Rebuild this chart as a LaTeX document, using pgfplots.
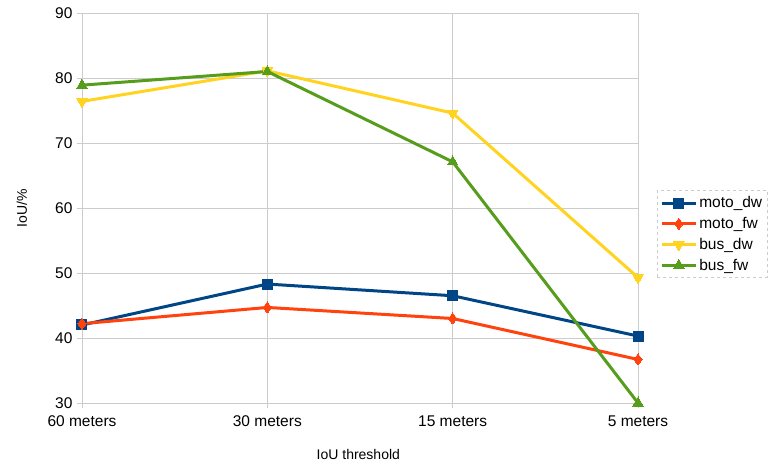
\documentclass[border=0pt]{standalone}
\usepackage{pgfplots}
\pgfplotsset{compat=1.18}
\usepackage{fontspec}
\setmainfont{Liberation Sans}

\definecolor{cMotoDw}{HTML}{004586}
\definecolor{cMotoFw}{HTML}{FF420E}
\definecolor{cBusDw}{HTML}{FFD320}
\definecolor{cBusFw}{HTML}{579D1C}
\definecolor{gridgray}{HTML}{CCCCCC}

\begin{document}
\begin{tikzpicture}[x=1pt,y=1pt]
\begin{axis}[
  name=ax,
  scale only axis,
  width=556pt, height=390pt,
  xmin=0, xmax=3,
  ymin=30, ymax=90,
  xtick={0,1,2,3},
  xticklabels={60 meters,30 meters,15 meters,5 meters},
  ytick={30,40,...,90},
  /pgf/number format/assume math mode=true,
  tick label style={font=\fontsize{15.5}{17}\selectfont, black},
  xticklabel style={yshift=-4pt},
  yticklabel style={xshift=-1pt},
  label style={font=\fontsize{14}{16}\selectfont},
  xlabel={IoU threshold},
  ylabel={IoU/\%},
  xlabel style={at={(axis description cs:0.497,0)}, anchor=center, yshift=-51pt},
  ylabel style={at={(axis description cs:-0.108,0.5)}, anchor=center},
  grid=major,
  grid style={gridgray, line width=0.8pt},
  axis line style={gridgray, line width=0.8pt},
  axis x line*=bottom,
  axis y line*=left,
  tick align=outside,
  major tick length=5pt,
  tick style={gridgray, line width=0.8pt},
  clip=false,
  every axis plot/.append style={line width=3pt, line join=round},
  legend style={
    at={([xshift=19pt]axis description cs:1,0.433)}, anchor=west,
    draw=gridgray, dashed, line width=0.6pt,
    font=\fontsize{15.5}{17}\selectfont,
    row sep=4pt, inner xsep=3pt, inner ysep=4pt,
    legend cell align=left,
  },
  legend image code/.code={
    \draw[#1, solid] (0pt,0pt) -- (34pt,0pt);
    \draw[#1, solid, mark repeat=1] plot coordinates {(17pt,0pt)};
  },
]
\addplot[color=cMotoDw, mark=square*, mark size=5pt, mark options={solid, line width=0pt}]
  coordinates {(0,42.0) (1,48.3) (2,46.5) (3,40.3)};
\addlegendentry{moto\_dw}
\addplot[color=cMotoFw, mark=diamond*, mark size=5.5pt, mark options={solid, line width=0pt}]
  coordinates {(0,42.2) (1,44.7) (2,43.0) (3,36.7)};
\addlegendentry{moto\_fw}
\addplot[color=cBusDw, mark=triangle*, mark size=6pt, mark options={solid, rotate=180, line width=0pt}]
  coordinates {(0,76.4) (1,81.1) (2,74.6) (3,49.3)};
\addlegendentry{bus\_dw}
\addplot[color=cBusFw, mark=triangle*, mark size=6pt, mark options={solid, line width=0pt}]
  coordinates {(0,78.9) (1,81.0) (2,67.1) (3,30.0)};
\addlegendentry{bus\_fw}
\coordinate (bl) at (rel axis cs:0,0);
\coordinate (tr) at (rel axis cs:1,1);
\end{axis}
\pgfresetboundingbox
\path ([shift={(-82pt,-60pt)}]bl) rectangle ([shift={(130pt,13pt)}]tr);
\end{tikzpicture}
\end{document}
